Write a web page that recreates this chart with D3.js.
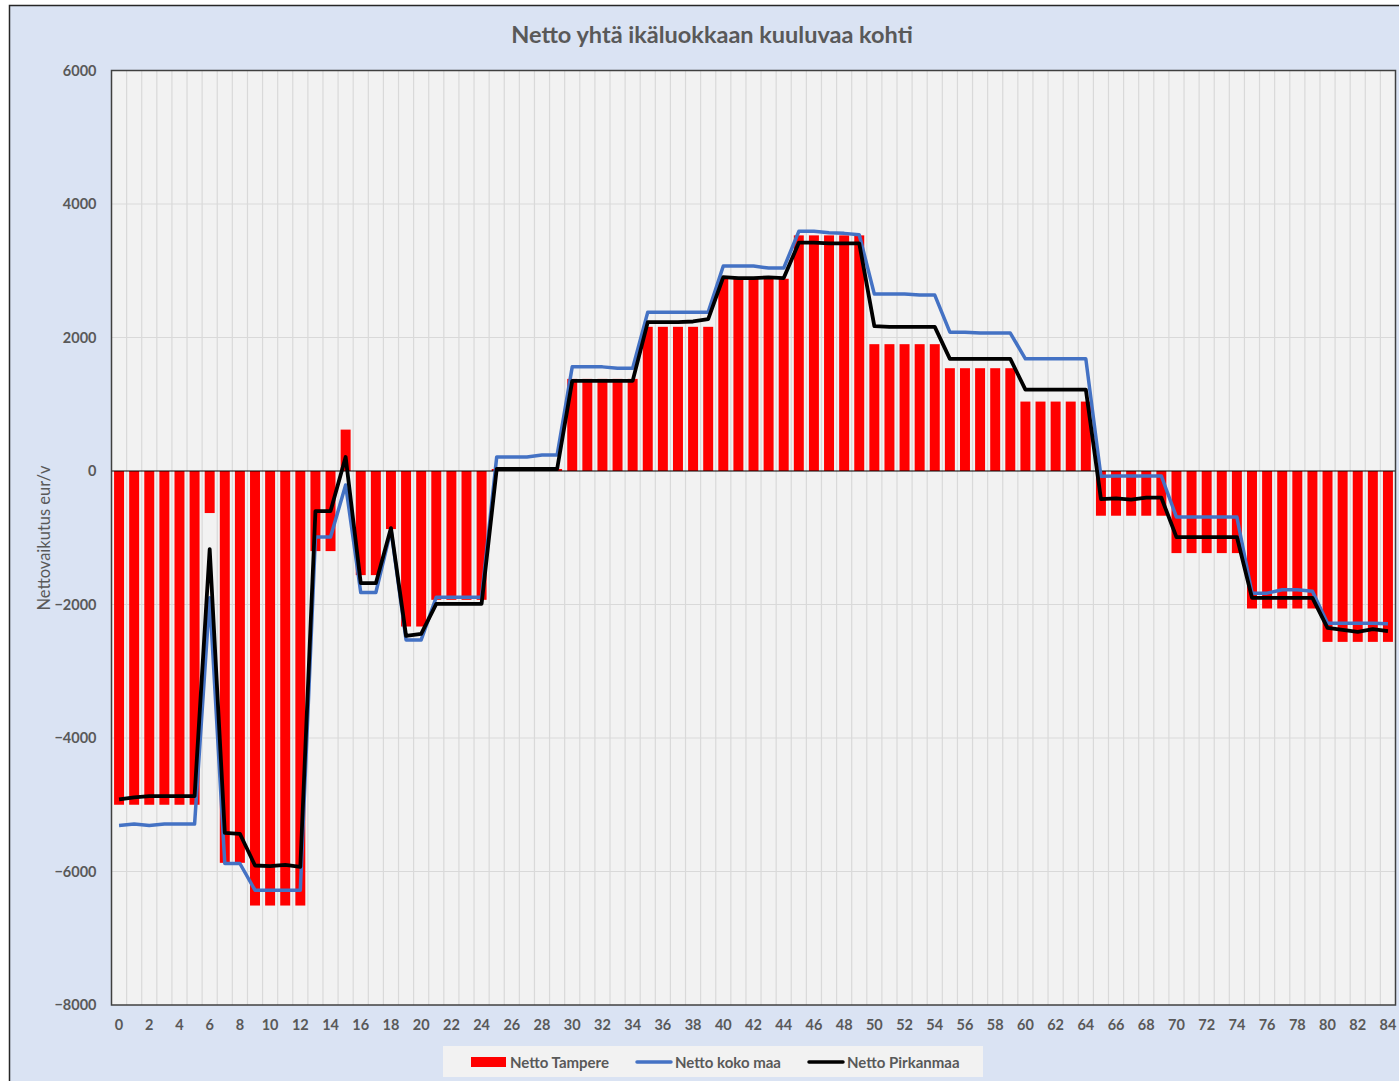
<!DOCTYPE html>
<html>
<head>
<meta charset="utf-8">
<script src="https://cdn.jsdelivr.net/npm/d3@7"></script>
<style>
  body { margin: 0; background: #fff; }
  text { font-family: Lato, "Open Sans", sans-serif; fill: #595959; }
</style>
</head>
<body>
<script>
// ikäluokat 0..84
const ages = d3.range(0, 85);

const tampere = [
  -5000, -5000, -5000, -5000, -5000, -5000, -630, -5870, -5870, -6510,
  -6510, -6510, -6510, -1200, -1200, 620, -1560, -1560, -870, -2330,
  -2330, -1930, -1930, -1930, -1930, 30, 30, 30, 30, 30,
  1380, 1380, 1380, 1380, 1380, 2160, 2160, 2160, 2160, 2160,
  2880, 2880, 2880, 2880, 2880, 3530, 3530, 3530, 3530, 3530,
  1900, 1900, 1900, 1900, 1900, 1540, 1540, 1540, 1540, 1540,
  1040, 1040, 1040, 1040, 1040, -670, -670, -670, -670, -670,
  -1230, -1230, -1230, -1230, -1230, -2060, -2060, -2060, -2060, -2060,
  -2560, -2560, -2560, -2560, -2560
];

const kokoMaa = [
  -5310, -5290, -5310, -5290, -5290, -5290, -1900, -5880, -5880, -6280,
  -6280, -6280, -6280, -990, -990, -210, -1820, -1820, -880, -2530,
  -2530, -1890, -1890, -1890, -1890, 210, 210, 210, 240, 240,
  1560, 1560, 1560, 1540, 1540, 2380, 2380, 2380, 2380, 2380,
  3070, 3070, 3070, 3040, 3040, 3590, 3590, 3570, 3560, 3540,
  2650, 2650, 2650, 2635, 2635, 2080, 2080, 2066, 2066, 2066,
  1680, 1680, 1680, 1680, 1680, -80, -75, -75, -75, -75,
  -690, -690, -690, -690, -690, -1830, -1830, -1780, -1780, -1800,
  -2280, -2280, -2280, -2280, -2290
];

const pirkanmaa = [
  -4920, -4890, -4870, -4870, -4870, -4870, -1170, -5420, -5435, -5910,
  -5920, -5900, -5930, -600, -600, 210, -1680, -1680, -855, -2470,
  -2440, -1990, -1990, -1990, -1990, 30, 30, 30, 30, 30,
  1350, 1350, 1350, 1350, 1350, 2230, 2230, 2230, 2240, 2275,
  2905, 2890, 2890, 2900, 2890, 3420, 3420, 3410, 3410, 3410,
  2170, 2160, 2160, 2160, 2160, 1680, 1680, 1680, 1680, 1680,
  1220, 1220, 1220, 1220, 1220, -420, -410, -430, -400, -400,
  -990, -990, -990, -990, -990, -1900, -1900, -1900, -1900, -1900,
  -2350, -2380, -2410, -2370, -2400
];

const yTicks = [-8000, -6000, -4000, -2000, 0, 2000, 4000, 6000];

const width = 1399;
const height = 1081;
const margin = { top: 70.5, right: 3.5, bottom: 76, left: 111.5 };

const svg = d3.select('body').append('svg')
  .attr('width', width)
  .attr('height', height);

// chart background
svg.append('rect')
  .attr('x', 9.5).attr('y', 5.5)
  .attr('width', width).attr('height', height)
  .attr('fill', '#dae3f3')
  .attr('stroke', '#262626').attr('stroke-width', 1.5);

const x = d3.scaleBand()
  .domain(ages)
  .range([margin.left, width - margin.right])
  .paddingInner(0.34)
  .paddingOuter(0.17);

const y = d3.scaleLinear()
  .domain([-8000, 6000])
  .range([height - margin.bottom, margin.top]);

const step = x.step();
const x0 = margin.left;
const x1 = width - margin.right;
const cx = (d, i) => x(ages[i]) + x.bandwidth() / 2;

// plot area
svg.append('rect')
  .attr('x', x0).attr('y', y(6000))
  .attr('width', x1 - x0).attr('height', y(-8000) - y(6000))
  .attr('fill', '#f2f2f2');

// vertical gridlines between categories
svg.append('g').selectAll('line')
  .data(ages.slice(1))
  .join('line')
  .attr('x1', (d) => x0 + d * step).attr('x2', (d) => x0 + d * step)
  .attr('y1', y(6000)).attr('y2', y(-8000))
  .attr('stroke', '#d9d9d9').attr('stroke-width', 1.2);

// horizontal gridlines
svg.append('g').selectAll('line')
  .data(yTicks.filter((d) => d !== 0 && d !== -8000 && d !== 6000))
  .join('line')
  .attr('x1', x0).attr('x2', x1)
  .attr('y1', (d) => y(d)).attr('y2', (d) => y(d))
  .attr('stroke', '#d9d9d9').attr('stroke-width', 1.2);

// bars
svg.append('g').selectAll('rect')
  .data(tampere)
  .join('rect')
  .attr('x', (d, i) => x(ages[i]))
  .attr('width', x.bandwidth())
  .attr('y', (d) => y(Math.max(0, d)))
  .attr('height', (d) => Math.abs(y(d) - y(0)))
  .attr('fill', '#ff0000');

// zero line
svg.append('line')
  .attr('x1', x0).attr('x2', x1)
  .attr('y1', y(0)).attr('y2', y(0))
  .attr('stroke', '#000').attr('stroke-width', 1.2);

const line = d3.line()
  .x(cx)
  .y((d) => y(d));

svg.append('path')
  .datum(kokoMaa)
  .attr('d', line)
  .attr('fill', 'none')
  .attr('stroke', '#4472c4')
  .attr('stroke-width', 3.5)
  .attr('stroke-linejoin', 'round');

svg.append('path')
  .datum(pirkanmaa)
  .attr('d', line)
  .attr('fill', 'none')
  .attr('stroke', '#000')
  .attr('stroke-width', 3.8)
  .attr('stroke-linejoin', 'round');

// plot border
svg.append('rect')
  .attr('x', x0).attr('y', y(6000))
  .attr('width', x1 - x0).attr('height', y(-8000) - y(6000))
  .attr('fill', 'none')
  .attr('stroke', '#404040').attr('stroke-width', 1.5);

// y axis
const yAxis = svg.append('g')
  .attr('transform', `translate(${x0},0)`)
  .call(d3.axisLeft(y).tickValues(yTicks).tickFormat(d3.format('d')).tickSize(0).tickPadding(15));
yAxis.select('.domain').remove();
yAxis.selectAll('text')
  .attr('font-size', 14.5).attr('font-weight', 'bold')
  .style('font-family', 'Lato, sans-serif').attr('fill', '#595959');

// x axis
const xAxis = svg.append('g')
  .attr('transform', `translate(0,${y(-8000)})`)
  .call(d3.axisBottom(x).tickValues(ages.filter((d) => d % 2 === 0)).tickSize(0).tickPadding(15));
xAxis.select('.domain').remove();
xAxis.selectAll('text')
  .attr('font-size', 14.5).attr('font-weight', 'bold')
  .style('font-family', 'Lato, sans-serif').attr('fill', '#595959');

// title
svg.append('text')
  .attr('x', 712).attr('y', 43)
  .attr('text-anchor', 'middle')
  .attr('font-size', 23.5).attr('font-weight', 'bold')
  .text('Netto yhtä ikäluokkaan kuuluvaa kohti');

// y axis title
svg.append('text')
  .attr('transform', `translate(50,538) rotate(-90)`)
  .attr('text-anchor', 'middle')
  .attr('font-size', 16.5)
  .text('Nettovaikutus eur/v');

// legend
const legend = svg.append('g');
legend.append('rect')
  .attr('x', 443).attr('y', 1046)
  .attr('width', 540).attr('height', 31)
  .attr('fill', '#f2f2f2');

const legendItems = [
  { name: 'Netto Tampere', type: 'bar', color: '#ff0000', x: 471 },
  { name: 'Netto koko maa', type: 'line', color: '#4472c4', x: 636 },
  { name: 'Netto Pirkanmaa', type: 'line', color: '#000', x: 808 },
];

legendItems.forEach((it) => {
  if (it.type === 'bar') {
    legend.append('rect')
      .attr('x', it.x).attr('y', 1057)
      .attr('width', 35).attr('height', 10)
      .attr('fill', it.color);
  } else {
    legend.append('line')
      .attr('x1', it.x + 1).attr('x2', it.x + 35)
      .attr('y1', 1062).attr('y2', 1062)
      .attr('stroke', it.color).attr('stroke-width', 3.5)
      .attr('stroke-linecap', 'round');
  }
  legend.append('text')
    .attr('x', it.x + 39).attr('y', 1067.5)
    .attr('font-size', 15).attr('font-weight', 'bold')
    .text(it.name);
});
</script>
</body>
</html>
